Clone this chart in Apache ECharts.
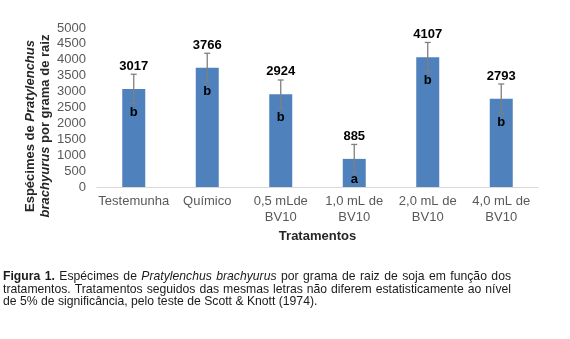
<!DOCTYPE html>
<html><head><meta charset="utf-8">
<script src="https://cdn.jsdelivr.net/npm/echarts@6/dist/echarts.min.js"></script>
<style>html,body{margin:0;padding:0;background:#fff}#c{width:570px;height:339px}</style>
</head><body><div id="c"></div>
<script>
// ---- data ----
const categories = ['Testemunha', 'Químico', '0,5 mLde\nBV10', '1,0 mL de\nBV10', '2,0 mL de\nBV10', '4,0 mL de\nBV10'];
const means = [3085, 3750, 2914, 884, 4083, 2778];
const meanLabels = ['3017', '3766', '2924', '885', '4107', '2793'];
const errors = [460, 456, 451, 455, 462, 461];
const letters = ['b', 'b', 'b', 'a', 'b', 'b'];
const yMin = 0, yMax = 5000, yStep = 500;
const xTitle = 'Tratamentos';
const yTitleLine1 = ['Espécimes de ', 'Pratylenchus'];
const yTitleLine2 = ['brachyurus', ' por grama de raiz'];
const captionLines = [
  [{t: 'Figura 1.', f: 'bold'}, {t: 'Espécimes de'}, {t: 'Pratylenchus brachyurus', f: 'italic'}, {t: 'por grama de raiz de soja em função dos'}],
  [{t: 'tratamentos. Tratamentos seguidos das mesmas letras não diferem estatisticamente ao nível'}],
  [{t: 'de 5% de significância, pelo teste de Scott & Knott (1974).'}]
];

const FONT = "'Liberation Sans', Arial, sans-serif";
const chart = echarts.init(document.getElementById('c'), null, {renderer: 'canvas'});

// caption with justification
const ctx = document.createElement('canvas').getContext('2d');
const CAP_SIZE = 12.2;
function fontStr(f) { return (f === 'bold' ? 'bold ' : f === 'italic' ? 'italic ' : '') + CAP_SIZE + 'px ' + FONT; }
const capLeft = 3, capRight = 511, capY = [276.5, 289.5, 302];
const captionEls = [];
captionLines.forEach((segs, li) => {
  const words = [];
  segs.forEach(s => s.t.split(' ').forEach(w => { if (w) words.push({w, f: s.f}); }));
  let total = 0;
  words.forEach(o => { ctx.font = fontStr(o.f); o.width = ctx.measureText(o.w).width; total += o.width; });
  ctx.font = fontStr();
  const sp = ctx.measureText(' ').width;
  const justify = li < captionLines.length - 1;
  const gap = justify ? (capRight - capLeft - total) / (words.length - 1) : sp;
  let x = capLeft;
  words.forEach(o => {
    captionEls.push({type: 'text', x: x, y: capY[li], silent: true,
      style: {text: o.w, font: fontStr(o.f), fill: '#1a1a1a', verticalAlign: 'middle', align: 'left'}});
    x += o.width + gap;
  });
});

const errData = means.map((m, i) => [i, m, errors[i]]);

chart.setOption({
  backgroundColor: '#ffffff',
  animation: false,
  grid: {left: 97, right: 32, top: 28, bottom: 152, containLabel: false, outerBoundsMode: 'none'},
  xAxis: {
    type: 'category', data: categories,
    axisLine: {lineStyle: {color: '#d9d9d9', width: 1}},
    axisTick: {show: false},
    axisLabel: {interval: 0, fontSize: 13, color: '#595959', fontFamily: FONT, lineHeight: 15.6, margin: 7},
    name: xTitle, nameLocation: 'middle', nameGap: 43,
    nameTextStyle: {fontSize: 13, fontWeight: 'bold', color: '#262626', fontFamily: FONT}
  },
  yAxis: {
    type: 'value', min: yMin, max: yMax, interval: yStep,
    axisLine: {show: false}, axisTick: {show: false}, splitLine: {show: false},
    axisLabel: {fontSize: 13, color: '#595959', fontFamily: FONT, margin: 11, formatter: v => String(v)}
  },
  series: [
    {
      type: 'bar', data: means, barWidth: 23,
      itemStyle: {color: '#4F81BD'},
      label: {show: true, position: 'top', distance: 16,
        formatter: p => meanLabels[p.dataIndex],
        fontSize: 13, fontWeight: 'bold', color: '#000', fontFamily: FONT}
    },
    {
      type: 'custom', data: errData, z: 5,
      renderItem: function (params, api) {
        const i = api.value(0), v = api.value(1), e = api.value(2);
        const top = api.coord([i, v + e]);
        const bot = api.coord([i, v - e]);
        const base = api.coord([i, 0]);
        const bar = api.coord([i, v]);
        const hw = 3;
        const st = {stroke: '#7f7f7f', lineWidth: 1.3};
        const ly = Math.min(bar[1] + 23.5, base[1] - 8);
        return {type: 'group', children: [
          {type: 'line', shape: {x1: top[0], y1: top[1], x2: bot[0], y2: bot[1]}, style: st},
          {type: 'line', shape: {x1: top[0] - hw, y1: top[1], x2: top[0] + hw, y2: top[1]}, style: st},
          {type: 'line', shape: {x1: bot[0] - hw, y1: bot[1], x2: bot[0] + hw, y2: bot[1]}, style: st},
          {type: 'text', x: bar[0], y: ly, style: {text: letters[params.dataIndex], font: 'bold 13px ' + FONT, fill: '#000', align: 'center', verticalAlign: 'middle'}}
        ]};
      }
    }
  ],
  graphic: [
    {type: 'text', x: 37.5, y: 126, rotation: Math.PI / 2, silent: true,
      style: {
        text: '{b|' + yTitleLine1[0] + '}{bi|' + yTitleLine1[1] + '}\n{bi|' + yTitleLine2[0] + '}{b|' + yTitleLine2[1] + '}',
        align: 'center', verticalAlign: 'middle', fill: '#262626',
        rich: {
          b: {fontWeight: 'bold', fontSize: 13, fontFamily: FONT, lineHeight: 15, fill: '#262626'},
          bi: {fontWeight: 'bold', fontStyle: 'italic', fontSize: 13, fontFamily: FONT, lineHeight: 15, fill: '#262626'}
        }
      }}
  ].concat(captionEls)
});
</script>
</body></html>
